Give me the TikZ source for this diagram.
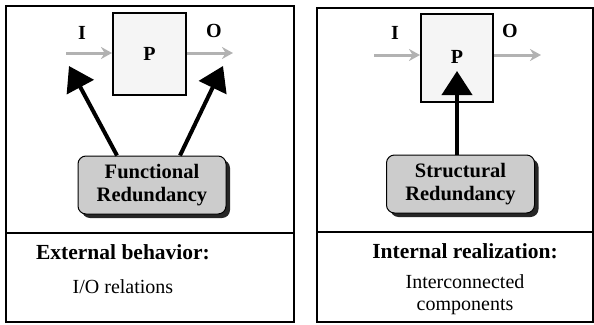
\documentclass[tikz,border=0pt]{standalone}
\usepackage{fontspec}
\setmainfont{Liberation Serif}
\usepackage{tikz}
\usetikzlibrary{arrows.meta, positioning, shadows}

\begin{document}
\begin{tikzpicture}[
    x=1pt, y=1pt,
    panel/.style={draw, line width=1.4pt},
    procbox/.style={draw, line width=1.4pt, fill=gray!8},
    redbox/.style={draw, line width=1pt, rounded corners=8pt, fill=gray!40,
        minimum width=148pt, minimum height=58pt, align=center,
        font=\fontsize{20.5}{23}\selectfont\bfseries,
        drop shadow={shadow xshift=4pt, shadow yshift=-4pt, fill=black!85, opacity=1}},
    iolabel/.style={font=\fontsize{20}{22}\selectfont\bfseries},
    headtext/.style={font=\fontsize{21.5}{24}\selectfont\bfseries},
    bodytext/.style={font=\fontsize{20}{22}\selectfont, align=center},
    flowarrow/.style={draw=gray!60, line width=3pt, -{Stealth[length=11pt, width=12pt]}},
    causearrow/.style={line width=4pt, -{Triangle[length=24pt, width=30pt]}}
]
\useasboundingbox (0,0) rectangle (594,-324);

% Panels
\draw[panel] (6,-6) rectangle (294,-322);
\draw[panel] (6,-233) -- (294,-233);
\draw[panel] (317,-8) rectangle (593,-322);
\draw[panel] (317,-232) -- (593,-232);

% Left: process with functional redundancy
\draw[procbox] (113,-13) rectangle (186,-95);
\node[iolabel] (procL) at (149.5,-54) {P};
\node[iolabel] (iL) at (82,-33) {I};
\node[iolabel] (oL) at (214,-31) {O};
\coordinate (inL) at (66,-53);
\coordinate (outL) at (233,-53);
\draw[flowarrow] (inL) -- (112,-53);
\draw[flowarrow] (187,-53) -- (outL);

\node[redbox] (fred) at (152,-185) {Functional\\Redundancy};
\coordinate (tipL) at (69,-66);
\coordinate (tipR) at (223,-66);
\draw[causearrow] ([xshift=-35pt]fred.north) -- (tipL);
\draw[causearrow] ([xshift=28pt]fred.north) -- (tipR);

\node[headtext] (extL) at (123,-252) {External behavior:};
\node[bodytext, below=13pt of extL] (ioL) {I/O relations};

% Right: process with structural redundancy
\draw[procbox] (421,-14) rectangle (493,-102);
\node[iolabel] (procR) at (457,-57) {P};
\node[iolabel] (iR) at (395,-33) {I};
\node[iolabel] (oR) at (510,-31) {O};
\coordinate (inR) at (374,-55);
\coordinate (outR) at (541,-55);
\draw[flowarrow] (inR) -- (420,-55);
\draw[flowarrow] (494,-55) -- (outR);

\node[redbox] (sred) at (460.5,-184) {Structural\\Redundancy};
\coordinate (tipS) at (457,-71);
\draw[causearrow] (sred.north -| tipS) -- (tipS);

\node[headtext] (intR) at (465,-251) {Internal realization:};
\node[bodytext, below=9pt of intR] (compR) {Interconnected\\components};

\end{tikzpicture}
\end{document}
